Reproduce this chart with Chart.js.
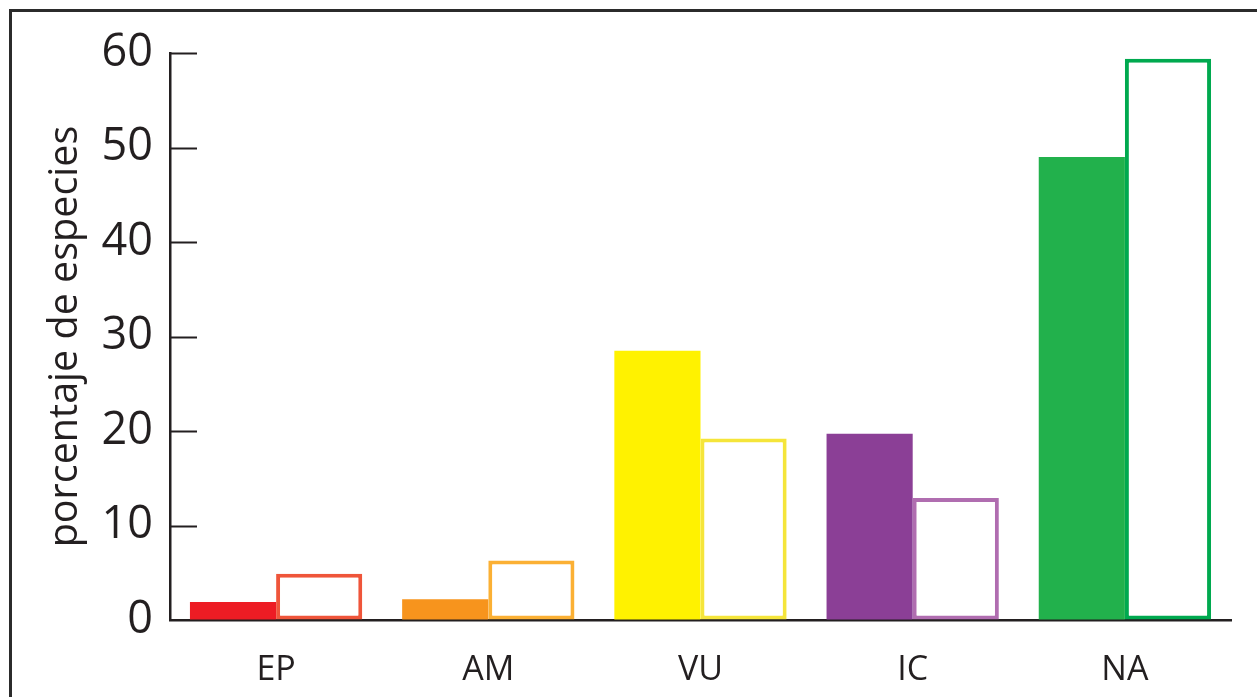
<!DOCTYPE html>
<html>
<head>
<meta charset="utf-8">
<script src="https://cdn.jsdelivr.net/npm/chart.js@4/dist/chart.umd.min.js"></script>
<style>
    html, body { margin: 0; padding: 0; background: #fff; overflow: hidden; }
    canvas { display: block; }
</style>
</head>
<body>
<canvas id="myChart" width="1257" height="697"></canvas>
<script>
// Categories and values (percent of species)
var categories = ['EP', 'AM', 'VU', 'IC', 'NA'];
var filledValues = [1.9, 2.2, 28.5, 19.7, 49.0];
var outlineValues = [4.9, 6.3, 19.2, 12.9, 59.4];
var yTicks = [0, 10, 20, 30, 40, 50, 60];

var fillColors = ['#ed1c24', '#f7941d', '#fff200', '#8b3f96', '#22b14c'];
var lineColors = ['#ef553a', '#fbb034', '#f5e53a', '#b06db0', '#00a94f'];

var ink = '#231f20';

// White background and the frame round the picture
var framePlugin = {
    id: 'frame',
    beforeDraw: function (chart) {
        var ctx = chart.ctx;
        ctx.save();
        ctx.fillStyle = '#fff';
        ctx.fillRect(0, 0, chart.width, chart.height);
        ctx.strokeStyle = '#2b2b2b';
        ctx.lineWidth = 3;
        ctx.strokeRect(10.5, 10.5, chart.width + 50, chart.height + 50);
        ctx.restore();
    }
};

// Tick marks point inward (to the right of the y axis)
var innerTicksPlugin = {
    id: 'innerTicks',
    afterDraw: function (chart) {
        var y = chart.scales.y;
        var ctx = chart.ctx;
        var left = chart.chartArea.left;
        ctx.save();
        ctx.strokeStyle = ink;
        ctx.lineWidth = 2;
        y.ticks.forEach(function (t) {
            if (t.value === 0) return;
            var py = Math.round(y.getPixelForValue(t.value)) + 0.5;
            ctx.beginPath();
            ctx.moveTo(left, py);
            ctx.lineTo(left + 27, py);
            ctx.stroke();
        });
        ctx.restore();
    }
};

var ctx = document.getElementById('myChart');

new Chart(ctx, {
    type: 'bar',
    data: {
        labels: categories,
        datasets: [{
            data: filledValues,
            backgroundColor: fillColors,
            borderWidth: 0,
            barPercentage: 1,
            categoryPercentage: 0.812
        }, {
            data: outlineValues,
            backgroundColor: '#ffffff',
            borderColor: lineColors,
            borderWidth: 4,
            borderSkipped: false,
            barPercentage: 1,
            categoryPercentage: 0.812
        }]
    },
    options: {
        responsive: false,
        animation: false,
        layout: {
            padding: { top: 53, right: 26, left: 0, bottom: 0 }
        },
        plugins: {
            legend: { display: false },
            tooltip: { enabled: false }
        },
        scales: {
            x: {
                z: 1,
                afterFit: function (scale) { scale.height = 77; },
                grid: { display: true, drawOnChartArea: false, drawTicks: false },
                border: { display: true, color: ink, width: 2.5 },
                ticks: {
                    color: ink,
                    padding: 30,
                    font: { family: '"Open Sans"', size: 34 }
                }
            },
            y: {
                z: 1,
                min: 0,
                max: 60,
                afterFit: function (scale) { scale.width = 170; },
                afterBuildTicks: function (scale) {
                    scale.ticks = yTicks.map(function (v) { return { value: v }; });
                },
                grid: { display: true, drawOnChartArea: false, drawTicks: false },
                border: { display: true, color: ink, width: 2.5 },
                ticks: {
                    color: ink,
                    padding: 17,
                    font: { family: '"Open Sans"', size: 45 }
                },
                title: {
                    display: true,
                    text: 'porcentaje de especies',
                    color: ink,
                    padding: { top: 42, bottom: 0 },
                    font: { family: '"Open Sans"', size: 39.5 }
                }
            }
        }
    },
    plugins: [framePlugin, innerTicksPlugin]
});
</script>
</body>
</html>
